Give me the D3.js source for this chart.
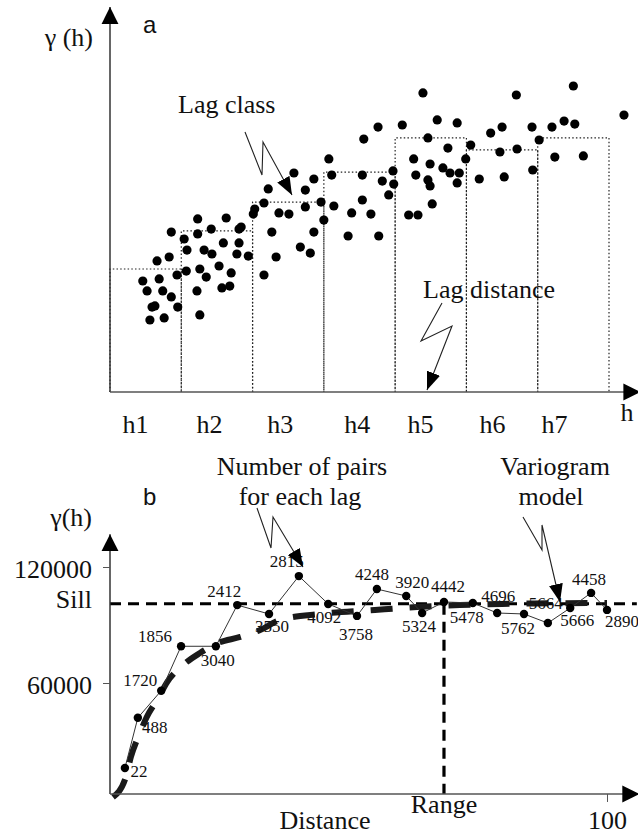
<!DOCTYPE html>
<html>
<head>
<meta charset="utf-8">
<script src="https://cdn.jsdelivr.net/npm/d3@7"></script>
<style>
body{margin:0;background:#fff;}
text{font-family:"Liberation Serif","Times New Roman",serif;fill:#111;}
</style>
</head>
<body>
<script>
// ---- panel a : variogram cloud ----
var lagClasses = ["h1","h2","h3","h4","h5","h6","h7"];
var lagMeans   = [41.0, 53.7, 63.3, 73.3, 84.7, 80.7, 84.7];
var hTickAt    = [3.5, 13.9, 23.8, 34.6, 43.5, 53.6, 62.3];

var cloudDist = [21.6,20.3,20.1,23.7,25.1,27.4,28.6,22.7,26.7,28.1,23.3,21.6,12.3,16.3,8.6,12.3,14.2,18.1,18.4,10.4,
  10.8,13.2,14.3,15.9,18.1,17.8,19.4,6.6,8.3,9.4,10.7,12.6,13.5,15.3,17.0,4.6,6.9,5.2,7.4,8.6,
  12.2,15.7,16.8,5.9,6.3,9.5,5.6,7.6,12.6,43.9,57.0,65.0,72.1,45.9,48.7,37.6,41.0,35.6,44.6,47.4,
  50.6,53.4,55.0,59.2,62.0,63.7,65.2,60.2,54.7,57.1,62.4,66.4,30.7,28.6,31.1,27.4,29.6,31.4,30.0,35.4,
  39.7,38.2,39.8,35.4,39.1,33.9,36.6,42.6,42.9,44.9,44.6,44.9,46.7,47.7,49.0,48.7,49.9,51.8,55.3,59.3,
  45.2,41.9,43.2,33.4,37.7,25.8,22.2];
var cloudGamma = [63.0,61.0,59.3,59.7,59.3,61.7,53.3,53.3,48.3,46.3,45.0,39.0,57.7,58.0,53.3,52.7,54.3,54.3,55.0,51.0,
  47.3,47.3,46.0,49.7,49.7,46.0,45.3,43.7,45.0,39.0,40.3,41.0,38.3,42.0,39.7,37.0,37.7,33.7,33.7,31.7,
  33.7,34.7,35.3,28.3,28.7,28.3,24.0,24.7,25.7,99.7,99.0,102.0,92.3,90.7,89.7,88.3,89.0,84.3,84.7,81.3,
  82.3,86.3,88.3,88.3,88.3,90.3,89.3,84.0,80.0,81.0,78.3,78.7,77.7,71.0,72.3,67.3,63.3,62.0,57.3,72.3,
  73.7,70.3,69.3,64.0,65.7,59.7,59.3,77.7,72.3,76.0,70.7,68.7,74.7,73.0,73.0,69.7,77.7,71.0,71.7,74.0,
  62.7,59.0,59.0,52.0,52.0,73.0,67.7];

// ---- panel b : experimental variogram + model ----
var lagDist  = [3.0,5.6,10.3,14.3,21.3,25.6,32.0,38.0,43.9,49.7,53.7,59.6,62.8,67.2,73.0,77.9,83.3,88.1,92.6,96.8,100.0];
var lagGamma = [16000,42000,56000,79000,79000,100300,95700,115300,100900,94700,108600,105000,96200,101900,101400,96200,95700,91000,98800,106600,97800];
var pairCounts = [22,488,1720,1856,3040,2412,3550,2815,4092,3758,4248,3920,5324,4442,5478,4696,5762,5664,5666,4458,2890];
var modelDist  = [0.6,3.2,4.2,6.0,7.4,9.7,11.5,14.7,18.1,21.7,26.2,30.2,34.2,42.3,53.3,61.8,70.4,78.9,88.0,100.0];
var modelGamma = [1000,11400,21700,34100,42400,52200,60500,69300,75500,80700,83800,87400,92600,95700,97800,99300,100300,100900,101200,101400];
var sill = 101000, range = 67.2;
var yTicks = [60000,120000];

// where each pair-count label sits relative to its point (dx, dy)
var labelNudge = [[14,9],[17,15],[-21,-5],[-26,-4],[2,20],[-13,-8],[3,18],[-12,-9],[-4,19],[-1,24],[-5,-9],
  [6,-8],[-3,19],[4,-10],[-6,20],[1,-11],[-6,20],[-2,-14],[7,18],[-2,-8],[15,17]];

var svg = d3.select("body").append("svg").attr("width",638).attr("height",836);

var defs = svg.append("defs");
defs.append("marker").attr("id","axisHead").attr("markerUnits","userSpaceOnUse")
    .attr("viewBox","0 -9 17 18").attr("refX",17).attr("refY",0)
    .attr("markerWidth",17).attr("markerHeight",18).attr("orient","auto")
  .append("path").attr("d","M0,-8.5L17,0L0,8.5Z").attr("fill","#000");
defs.append("marker").attr("id","boltHead").attr("markerUnits","userSpaceOnUse")
    .attr("viewBox","0 -7 18 14").attr("refX",18).attr("refY",0)
    .attr("markerWidth",18).attr("markerHeight",14).attr("orient","auto")
  .append("path").attr("d","M0,-7L18,0L0,7Z").attr("fill","#000");

function bolt(pts){
  svg.append("polyline").attr("points",pts.join(" "))
     .attr("fill","none").attr("stroke","#222").attr("stroke-width",1.1)
     .attr("marker-end","url(#boltHead)");
}

// ================= panel a =================
var xa = d3.scaleLinear().domain([0,70]).range([110,609]);
var ya = d3.scaleLinear().domain([0,130]).range([392,2]);

// lag class boxes (dotted)
svg.selectAll("path.lag").data(lagMeans).enter().append("path")
   .attr("class","lag")
   .attr("d",function(d,i){ return "M"+xa(i*10)+","+ya(0)+"V"+ya(d)+"H"+xa(i*10+10)+"V"+ya(0); })
   .attr("fill","none").attr("stroke","#222").attr("stroke-width",1.2)
   .attr("stroke-dasharray","1.5,2.2");

svg.selectAll("circle.cloud").data(cloudDist).enter().append("circle")
   .attr("class","cloud")
   .attr("cx",function(d){ return xa(d); })
   .attr("cy",function(d,i){ return ya(cloudGamma[i]); })
   .attr("r",4.6).attr("fill","#000");

// axes
svg.append("line").attr("x1",xa(0)).attr("y1",ya(0)).attr("x2",xa(0)).attr("y2",ya(128.3))
   .attr("stroke","#333").attr("stroke-width",1.5).attr("marker-end","url(#axisHead)");
svg.append("line").attr("x1",xa(0)).attr("y1",ya(0)).attr("x2",xa(74.4)).attr("y2",ya(0))
   .attr("stroke","#555").attr("stroke-width",1.6).attr("marker-end","url(#axisHead)");

var axA = svg.append("g").attr("transform","translate(0,"+ya(0)+")")
   .call(d3.axisBottom(xa).tickValues(hTickAt).tickSize(0)
         .tickFormat(function(d,i){ return lagClasses[i]; }));
axA.select(".domain").remove();
axA.selectAll("text").attr("dy",null).attr("y",41)
   .style("font-family","Liberation Serif").style("font-size","26px").attr("fill","#111");

svg.append("text").attr("x",627).attr("y",421).attr("text-anchor","middle")
   .attr("font-size",26).text("h");
svg.append("text").attr("x",93).attr("y",46).attr("text-anchor","end")
   .attr("font-size",26).text("γ (h)");
svg.append("text").attr("x",143).attr("y",33)
   .style("font-family","Liberation Sans").attr("font-size",24).text("a");

svg.append("text").attr("x",178).attr("y",113).attr("font-size",26).text("Lag class");
bolt([[245,132],[262,175],[263,142],[292,195]]);
svg.append("text").attr("x",423).attr("y",298).attr("font-size",26).text("Lag distance");
bolt([[442,303],[421,341],[452,326],[427,390]]);

// ================= panel b =================
var xb = d3.scaleLinear().domain([0,100]).range([110,607]);
var yb = d3.scaleLinear().domain([0,120000]).range([799,567]);
var axisY = yb(2600);

// sill and range
svg.append("line").attr("x1",xb(0)).attr("x2",xb(106)).attr("y1",yb(sill)).attr("y2",yb(sill))
   .attr("stroke","#000").attr("stroke-width",3).attr("stroke-dasharray","11,7");
svg.append("line").attr("x1",xb(range)).attr("x2",xb(range)).attr("y1",yb(sill)).attr("y2",axisY)
   .attr("stroke","#000").attr("stroke-width",3.2).attr("stroke-dasharray","11,7");

// model
var modelLine = d3.line().curve(d3.curveMonotoneX)
   .x(function(d){ return xb(d); })
   .y(function(d,i){ return yb(modelGamma[i]); });
svg.append("path").datum(modelDist).attr("d",modelLine)
   .attr("fill","none").attr("stroke","#1a1a1a").attr("stroke-width",6)
   .attr("stroke-dasharray","22,17");

// experimental variogram
var expLine = d3.line()
   .x(function(d){ return xb(d); })
   .y(function(d,i){ return yb(lagGamma[i]); });
svg.append("path").datum(lagDist).attr("d",expLine)
   .attr("fill","none").attr("stroke","#333").attr("stroke-width",1);
svg.selectAll("circle.lagpt").data(lagDist).enter().append("circle")
   .attr("class","lagpt")
   .attr("cx",function(d){ return xb(d); })
   .attr("cy",function(d,i){ return yb(lagGamma[i]); })
   .attr("r",4.2).attr("fill","#000");
svg.selectAll("text.npairs").data(pairCounts).enter().append("text")
   .attr("class","npairs")
   .attr("x",function(d,i){ return xb(lagDist[i])+labelNudge[i][0]; })
   .attr("y",function(d,i){ return yb(lagGamma[i])+labelNudge[i][1]; })
   .attr("text-anchor","middle").attr("font-size",17)
   .text(function(d){ return d; });

// axes
svg.append("line").attr("x1",xb(0)).attr("y1",axisY).attr("x2",xb(0)).attr("y2",yb(137000))
   .attr("stroke","#333").attr("stroke-width",1.5).attr("marker-end","url(#axisHead)");
svg.append("line").attr("x1",xb(0)).attr("y1",axisY).attr("x2",xb(106.5)).attr("y2",axisY)
   .attr("stroke","#555").attr("stroke-width",1.6).attr("marker-end","url(#axisHead)");

var axL = svg.append("g").attr("transform","translate("+xb(0)+",0)")
   .call(d3.axisLeft(yb).tickValues(yTicks).tickSize(7).tickPadding(11).tickFormat(d3.format("d")));
axL.select(".domain").remove();
axL.selectAll("line").attr("stroke","#555");
axL.selectAll("text").attr("dy","0.42em")
   .style("font-family","Liberation Serif").style("font-size","26px").attr("fill","#111");

var axB = svg.append("g").attr("transform","translate(0,"+axisY+")")
   .call(d3.axisBottom(xb).tickValues([100]).tickSize(8).tickFormat(d3.format("d")));
axB.select(".domain").remove();
axB.selectAll("line").attr("stroke","#555");
axB.selectAll("text").attr("dy",null).attr("y",35)
   .style("font-family","Liberation Serif").style("font-size","26px").attr("fill","#111");

svg.append("text").attr("x",92).attr("y",yb(sill)+4).attr("text-anchor","end")
   .attr("font-size",26).text("Sill");
svg.append("text").attr("x",xb(range)).attr("y",813).attr("text-anchor","middle")
   .attr("font-size",26).text("Range");
svg.append("text").attr("x",325).attr("y",829).attr("text-anchor","middle")
   .attr("font-size",26).text("Distance");
svg.append("text").attr("x",92).attr("y",526).attr("text-anchor","end")
   .attr("font-size",26).text("γ(h)");
svg.append("text").attr("x",143).attr("y",505)
   .style("font-family","Liberation Sans").attr("font-size",24).text("b");

svg.append("text").attr("x",302).attr("y",475).attr("text-anchor","middle")
   .attr("font-size",26).text("Number of pairs");
svg.append("text").attr("x",300).attr("y",505).attr("text-anchor","middle")
   .attr("font-size",26).text("for each lag");
bolt([[257,508],[271,548],[273,517],[303,567]]);

svg.append("text").attr("x",555).attr("y",475).attr("text-anchor","middle")
   .attr("font-size",26).text("Variogram");
svg.append("text").attr("x",551).attr("y",505).attr("text-anchor","middle")
   .attr("font-size",26).text("model");
bolt([[523,517],[542,550],[542,525],[560,602]]);
</script>
</body>
</html>
